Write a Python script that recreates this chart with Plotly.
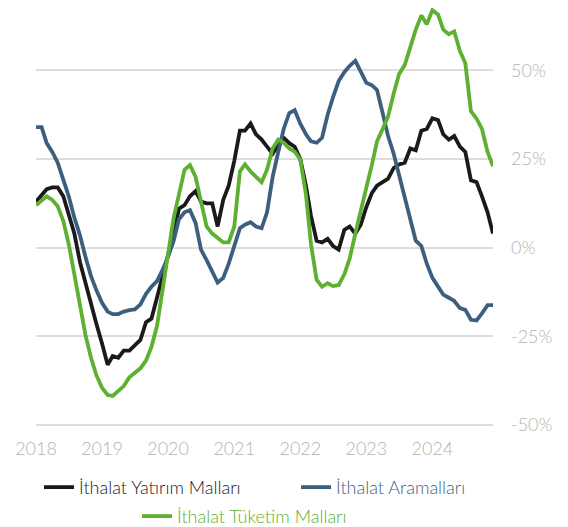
import pandas as pd
import plotly.graph_objects as go

months = pd.date_range("2018-01-01", periods=84, freq="MS")

yatirim = [13, 15, 16.5, 17, 17, 14.5, 9.5, 4, -4, -10, -16.5, -21.5,
           -27, -33, -30.5, -31, -29, -29, -27.5, -26, -21, -20, -14, -8,
           -2, 4, 11, 12, 14.5, 16, 13, 12.5, 12.5, 6, 13.5, 17.5,
           24.5, 33, 33, 35, 32, 30.5, 28.5, 26.5, 29, 31, 29.5, 28.5,
           25, 17.5, 9, 2, 1.5, 2.5, 0.5, -0.5, 5, 6, 4, 6.5,
           11.5, 15.5, 17.5, 18.5, 19.5, 22.5, 23.5, 24, 28, 27.5, 33, 33.5,
           36.5, 36, 32, 30.5, 31.5, 28.5, 27, 19, 18.5, 14.5, 10, 4]

aramallar = [34, 34, 29.5, 27, 24, 19.5, 14.5, 8.5, 3.5, -2.5, -8, -12,
             -15.5, -18, -18.7, -18.7, -18, -17.6, -17.4, -16, -13, -11, -9.4, -6.3,
             -2.5, 2, 8, 10, 10.6, 7, -0.5, -3.5, -7, -9.8, -8.5, -4.5,
             0.5, 5.5, 6.5, 7.2, 6, 5.5, 10, 20, 27, 33.5, 38, 38.8,
             35, 32, 30, 29.6, 31, 37.5, 42.5, 47, 49.5, 51.3, 52.7, 49.5,
             46.5, 45.8, 44.5, 38, 31.5, 26.5, 20.5, 14.5, 7.5, 2, 0.5, -4.5,
             -8.5, -11, -13.2, -14.1, -15, -17, -17.5, -20.3, -20.5, -18.5, -16.2, -16.2]

tuketim = [12, 13.5, 14.5, 13.5, 11.7, 7.5, 1, -7.5, -16.5, -24.5, -31, -36,
           -39.5, -41.5, -41.8, -40.5, -39, -36.5, -35.2, -34, -31.8, -28, -22, -12,
           -1.5, 8.5, 15, 22, 23.3, 20, 13, 6, 4, 2.8, 1.5, 1.5,
           6, 21.5, 23.5, 21.5, 20, 18.5, 22, 28, 30.5, 29.6, 28, 27.1,
           24.9, 15, 1, -9, -11, -10, -10.8, -10.5, -7.5, -3, 4, 11,
           17, 23.5, 30, 33.5, 37, 43.5, 49, 51.5, 56.7, 61.5, 65.5, 63,
           67, 65.8, 61.5, 60.2, 61, 55.5, 52, 38.5, 36.4, 33.5, 27, 23]

names = ["İthalat Yatırım Malları", "İthalat Aramalları", "İthalat Tüketim Malları"]
colors = ["#1a1a1a", "#3d5f7f", "#5db030"]
y_ticks = [-50, -25, 0, 25, 50]
y_ticktext = ["-50%", "-25%", "0%", "25%", "50%"]
x_ticks = pd.date_range("2018-01-01", "2024-01-01", freq="YS")

FONT = "Lato"
TICK_FONT = dict(family=FONT, size=18, color="#b3b3b3", weight=300)

fig = go.Figure()
series = [yatirim, aramallar, tuketim]
legends = ["legend", "legend2", "legend3"]
for s, n, c, lg in zip(series, names, colors, legends):
    fig.add_trace(go.Scatter(
        x=months, y=s, mode="lines", name=n,
        line=dict(color=c, width=3.8),
        legend=lg,
    ))

def leg(x, y, color):
    return dict(
        orientation="h", x=x, xanchor="left", y=y, yanchor="middle",
        font=dict(family=FONT, size=18, weight=300, color=color),
        bgcolor="rgba(0,0,0,0)",
    )

# page body has an 8px margin, so the figure is 8px smaller than the window
fig.update_layout(
    width=560, height=519,
    margin=dict(l=28, r=75, t=0, b=97.5, autoexpand=False),
    plot_bgcolor="white", paper_bgcolor="white",
    font=dict(family=FONT, size=18, color="#b3b3b3"),
    xaxis=dict(
        range=[months[0], months[-1]],
        tickvals=list(x_ticks), tickformat="%Y",
        showgrid=False, zeroline=False, showline=False,
        ticks="", tickfont=TICK_FONT, automargin=False,
        ticklabelstandoff=7,
    ),
    yaxis=dict(
        side="right", range=[-51.1, 67.6],
        tickvals=y_ticks, ticktext=y_ticktext,
        showgrid=True, gridcolor="#dddddd", gridwidth=1.5,
        zeroline=False, showline=False, ticks="",
        ticklabelstandoff=17, automargin=False,
        tickfont=TICK_FONT,
    ),
    showlegend=True,
    legend=leg(0.0066, -0.1388, colors[0]),
    legend2=leg(0.569, -0.1388, colors[1]),
    legend3=leg(0.221, -0.2076, colors[2]),
)

fig.write_html("out.html")
